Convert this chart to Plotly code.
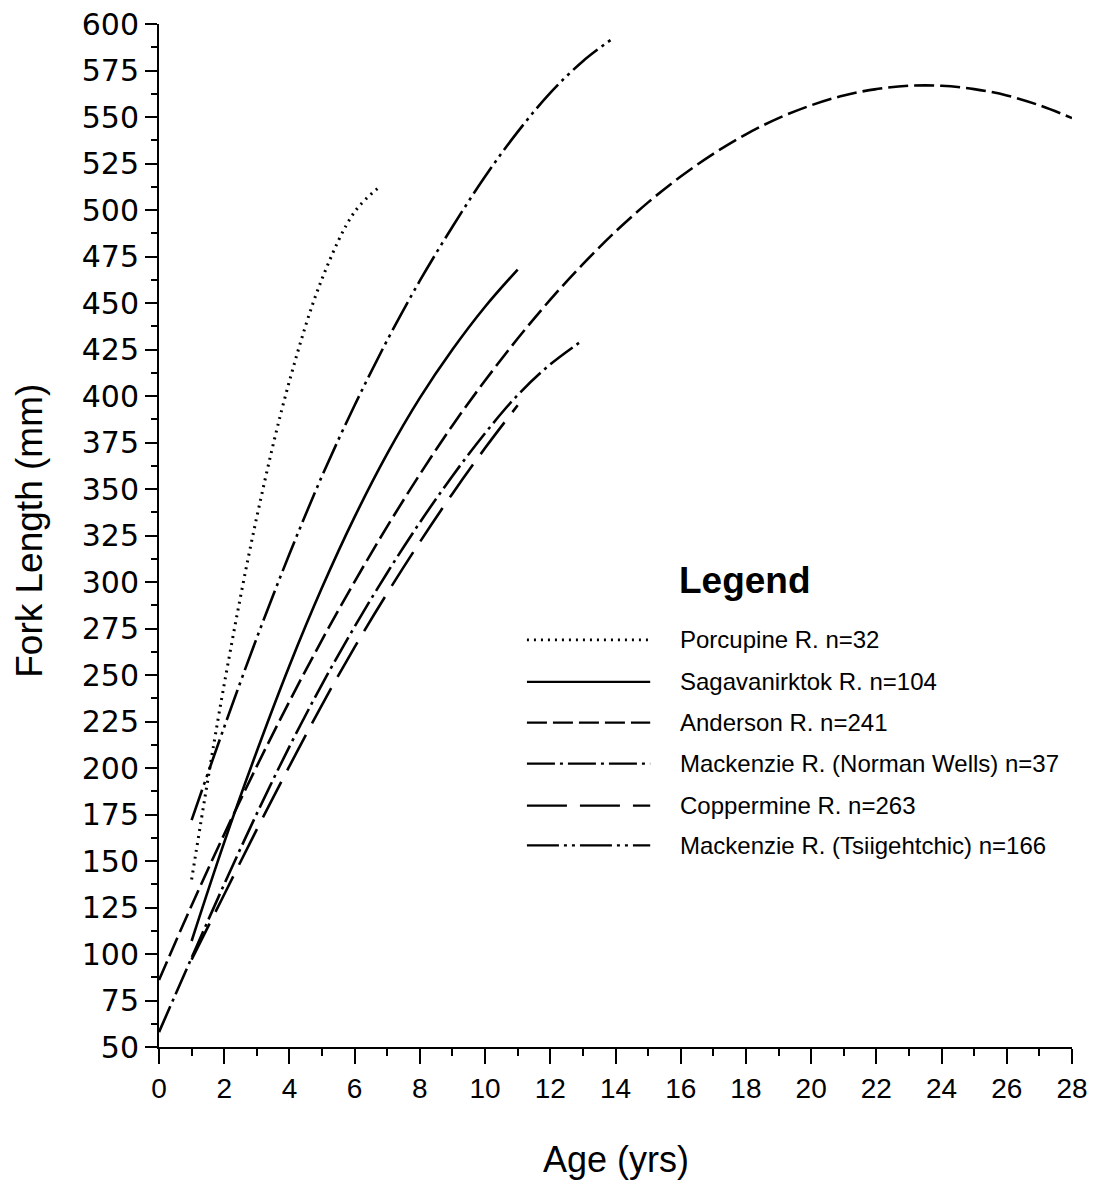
import plotly.graph_objects as go

# Growth curves: fork length (mm) at age (yrs) for each river population
porcupine_age = [1, 2, 3, 4, 5, 6, 6.8]
porcupine_len = [140, 245, 335, 408, 463, 499, 513]

sagavanirktok_age = [1, 2, 3, 4, 5, 6, 7, 8, 9, 10, 11]
sagavanirktok_len = [107, 160, 209, 255, 297, 335, 369, 399, 425, 448, 468]

anderson_age = list(range(0, 29))
anderson_len = [86.0, 126.1, 164.4, 201.0, 235.8, 268.9, 300.2, 329.9, 357.9, 384.2,
                408.3, 430.9, 451.8, 470.9, 488.4, 504.1, 518.0, 530.2, 540.7, 549.4,
                556.3, 561.6, 565.0, 566.8, 566.8, 565.0, 561.6, 556.3, 549.4]

norman_wells_age = [0, 1, 2, 3, 4, 5, 6, 7, 8, 9, 10, 11, 12, 13]
norman_wells_len = [58, 98, 137.5, 175.5, 211.5, 245, 276, 305, 332, 357, 380, 400.5, 417, 430]

coppermine_age = [1, 2, 3, 4, 5, 6, 7, 8, 9, 10, 11]
coppermine_len = [97, 132, 167, 201, 234, 265, 294, 321.5, 347.5, 372, 395]

tsiigehtchic_age = [1, 2, 3, 4, 5, 6, 7, 8, 9, 10, 11, 12, 13, 13.9]
tsiigehtchic_len = [172, 222, 270, 315, 357, 395, 430, 462, 491, 518, 542, 563, 580, 592]

labels = [
    "Porcupine R. n=32",
    "Sagavanirktok R. n=104",
    "Anderson R. n=241",
    "Mackenzie R. (Norman Wells) n=37",
    "Coppermine R. n=263",
    "Mackenzie R. (Tsiigehtchic) n=166",
]

dashes = [
    "2px,5px",
    "solid",
    "20px,6px",
    "28px,5px,3px,5px",
    "40px,13px",
    "32px,5px,3px,5px,3px,5px",
]

widths = [3, 2.6, 2.6, 2.6, 2.6, 2.6]

series = [
    (porcupine_age, porcupine_len),
    (sagavanirktok_age, sagavanirktok_len),
    (anderson_age, anderson_len),
    (norman_wells_age, norman_wells_len),
    (coppermine_age, coppermine_len),
    (tsiigehtchic_age, tsiigehtchic_len),
]

x_ticks = list(range(0, 29, 2))
y_ticks = list(range(50, 601, 25))

FONT = "Liberation Sans, Arial, sans-serif"
WIDE_FONT = "DejaVu Sans, Verdana, sans-serif"

fig = go.Figure()
for (ages, lens), name, dash, w in zip(series, labels, dashes, widths):
    fig.add_trace(go.Scatter(
        x=ages, y=lens, mode="lines", name=name, showlegend=False,
        line=dict(color="black", width=w, dash=dash, shape="spline", smoothing=1.0),
    ))

# Hand-built legend: long line samples with labels
legend_rows = [0.398, 0.357, 0.317, 0.277, 0.236, 0.197]
shapes = []
annotations = []
for yy, name, dash, w in zip(legend_rows, labels, dashes, widths):
    shapes.append(dict(type="line", xref="paper", yref="paper",
                       x0=0.403, x1=0.538, y0=yy, y1=yy,
                       line=dict(color="black", width=w - 0.4, dash=dash)))
    annotations.append(dict(xref="paper", yref="paper", x=0.569, y=yy,
                            xanchor="left", yanchor="middle", showarrow=False,
                            text=name, font=dict(family=FONT, size=24, color="black")))

annotations.append(dict(xref="paper", yref="paper", x=0.642, y=0.4565,
                        xanchor="center", yanchor="middle", showarrow=False,
                        text="<b>Legend</b>", font=dict(family=FONT, size=37, color="black")))

# Axis titles
annotations.append(dict(xref="paper", yref="paper", x=0.5, y=-0.11,
                        xanchor="center", yanchor="middle", showarrow=False,
                        text="Age (yrs)", font=dict(family=FONT, size=36, color="black")))
annotations.append(dict(xref="paper", yref="paper", x=-0.142, y=0.505,
                        xanchor="center", yanchor="middle", showarrow=False, textangle=-90,
                        text="Fork Length (mm)", font=dict(family=FONT, size=37, color="black")))

fig.update_layout(
    width=1096, height=1182,
    margin=dict(l=159, r=24, t=24, b=135, autoexpand=False),
    paper_bgcolor="white", plot_bgcolor="white",
    shapes=shapes, annotations=annotations,
    xaxis=dict(
        range=[0, 28], tickvals=x_ticks, ticktext=[str(v) for v in x_ticks],
        automargin=False,
        showgrid=False, zeroline=False, showline=True, linecolor="black", linewidth=2,
        ticks="outside", ticklen=15, tickwidth=2, tickcolor="black",
        minor=dict(dtick=1, tick0=0, ticks="outside", ticklen=7, tickwidth=2, tickcolor="black"),
        tickfont=dict(family=FONT, size=28, color="black"), ticklabelstandoff=0,
    ),
    yaxis=dict(
        range=[50, 600], tickvals=y_ticks, ticktext=[str(v) for v in y_ticks],
        automargin=False,
        showgrid=False, zeroline=False, showline=True, linecolor="black", linewidth=2,
        ticks="outside", ticklen=12, tickwidth=2, tickcolor="black",
        minor=dict(dtick=12.5, tick0=50, ticks="outside", ticklen=6, tickwidth=2, tickcolor="black"),
        tickfont=dict(family=WIDE_FONT, size=30, color="black"), ticklabelstandoff=0,
    ),
)

fig.write_html("out.html")
